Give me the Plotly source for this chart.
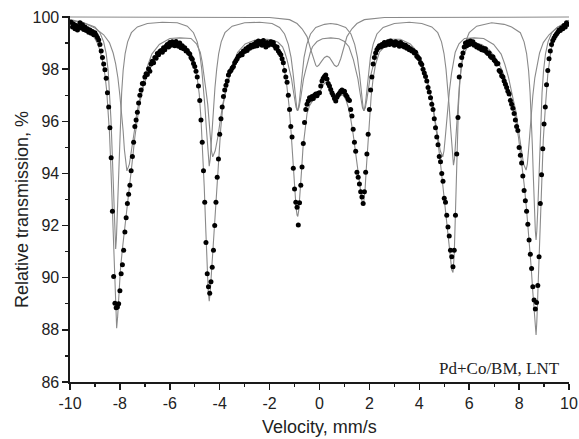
import plotly.graph_objects as go

# ---------------- measured spectrum (velocity in mm/s, transmission in %) ----------------
velocity = [
    -9.95, -9.90, -9.85, -9.80, -9.75, -9.70, -9.65, -9.60, -9.55, -9.50,
    -9.45, -9.40, -9.35, -9.30, -9.25, -9.20, -9.15, -9.10, -9.05, -9.00,
    -8.95, -8.90, -8.85, -8.80, -8.75, -8.70, -8.65, -8.60, -8.55, -8.50,
    -8.45, -8.40, -8.35, -8.30, -8.25, -8.20, -8.15, -8.10, -8.05, -8.00,
    -7.95, -7.90, -7.85, -7.80, -7.75, -7.70, -7.65, -7.60, -7.55, -7.50,
    -7.45, -7.40, -7.35, -7.30, -7.25, -7.20, -7.15, -7.10, -7.05, -7.00,
    -6.95, -6.90, -6.85, -6.80, -6.75, -6.70, -6.65, -6.60, -6.55, -6.50,
    -6.45, -6.40, -6.35, -6.30, -6.25, -6.20, -6.15, -6.10, -6.05, -6.00,
    -5.95, -5.90, -5.85, -5.80, -5.75, -5.70, -5.65, -5.60, -5.55, -5.50,
    -5.45, -5.40, -5.35, -5.30, -5.25, -5.20, -5.15, -5.10, -5.05, -5.00,
    -4.95, -4.90, -4.85, -4.80, -4.75, -4.70, -4.65, -4.60, -4.55, -4.50,
    -4.45, -4.40, -4.35, -4.30, -4.25, -4.20, -4.15, -4.10, -4.05, -4.00,
    -3.95, -3.90, -3.85, -3.80, -3.75, -3.70, -3.65, -3.60, -3.55, -3.50,
    -3.45, -3.40, -3.35, -3.30, -3.25, -3.20, -3.15, -3.10, -3.05, -3.00,
    -2.95, -2.90, -2.85, -2.80, -2.75, -2.70, -2.65, -2.60, -2.55, -2.50,
    -2.45, -2.40, -2.35, -2.30, -2.25, -2.20, -2.15, -2.10, -2.05, -2.00,
    -1.95, -1.90, -1.85, -1.80, -1.75, -1.70, -1.65, -1.60, -1.55, -1.50,
    -1.45, -1.40, -1.35, -1.30, -1.25, -1.20, -1.15, -1.10, -1.05, -1.00,
    -0.95, -0.90, -0.85, -0.80, -0.75, -0.70, -0.65, -0.60, -0.55, -0.50,
    -0.45, -0.40, -0.35, -0.30, -0.25, -0.20, -0.15, -0.10, -0.05, 0.00,
    0.05, 0.10, 0.15, 0.20, 0.25, 0.30, 0.35, 0.40, 0.45, 0.50,
    0.55, 0.60, 0.65, 0.70, 0.75, 0.80, 0.85, 0.90, 0.95, 1.00,
    1.05, 1.10, 1.15, 1.20, 1.25, 1.30, 1.35, 1.40, 1.45, 1.50,
    1.55, 1.60, 1.65, 1.70, 1.75, 1.80, 1.85, 1.90, 1.95, 2.00,
    2.05, 2.10, 2.15, 2.20, 2.25, 2.30, 2.35, 2.40, 2.45, 2.50,
    2.55, 2.60, 2.65, 2.70, 2.75, 2.80, 2.85, 2.90, 2.95, 3.00,
    3.05, 3.10, 3.15, 3.20, 3.25, 3.30, 3.35, 3.40, 3.45, 3.50,
    3.55, 3.60, 3.65, 3.70, 3.75, 3.80, 3.85, 3.90, 3.95, 4.00,
    4.05, 4.10, 4.15, 4.20, 4.25, 4.30, 4.35, 4.40, 4.45, 4.50,
    4.55, 4.60, 4.65, 4.70, 4.75, 4.80, 4.85, 4.90, 4.95, 5.00,
    5.05, 5.10, 5.15, 5.20, 5.25, 5.30, 5.35, 5.40, 5.45, 5.50,
    5.55, 5.60, 5.65, 5.70, 5.75, 5.80, 5.85, 5.90, 5.95, 6.00,
    6.05, 6.10, 6.15, 6.20, 6.25, 6.30, 6.35, 6.40, 6.45, 6.50,
    6.55, 6.60, 6.65, 6.70, 6.75, 6.80, 6.85, 6.90, 6.95, 7.00,
    7.05, 7.10, 7.15, 7.20, 7.25, 7.30, 7.35, 7.40, 7.45, 7.50,
    7.55, 7.60, 7.65, 7.70, 7.75, 7.80, 7.85, 7.90, 7.95, 8.00,
    8.05, 8.10, 8.15, 8.20, 8.25, 8.30, 8.35, 8.40, 8.45, 8.50,
    8.55, 8.60, 8.65, 8.70, 8.75, 8.80, 8.85, 8.90, 8.95, 9.00,
    9.05, 9.10, 9.15, 9.20, 9.25, 9.30, 9.35, 9.40, 9.45, 9.50,
    9.55, 9.60, 9.65, 9.70, 9.75, 9.80, 9.85, 9.90, 9.95,
]
transmission = [
    99.80, 99.62, 99.72, 99.55, 99.68, 99.50, 99.62, 99.78, 99.58, 99.70,
    99.52, 99.62, 99.48, 99.55, 99.42, 99.50, 99.38, 99.45, 99.32, 99.40,
    99.30, 99.22, 99.12, 98.95, 98.70, 98.45, 98.20, 97.98, 97.65, 97.10,
    96.55, 95.75, 94.60, 92.55, 90.05, 89.02, 88.85, 88.88, 89.00, 89.50,
    90.15, 90.50, 91.05, 91.75, 92.30, 92.85, 93.20, 93.55, 94.10, 94.65,
    95.20, 95.80, 96.05, 96.35, 96.70, 97.00, 97.20, 97.45, 97.45, 97.70,
    97.82, 97.80, 98.02, 97.92, 98.20, 98.30, 98.25, 98.45, 98.42, 98.60,
    98.55, 98.68, 98.72, 98.65, 98.82, 98.75, 98.88, 98.95, 98.85, 99.02,
    98.92, 99.05, 98.98, 98.90, 99.06, 98.95, 98.88, 99.00, 98.82, 98.90,
    98.78, 98.82, 98.70, 98.72, 98.62, 98.58, 98.45, 98.38, 98.22, 98.10,
    97.92, 97.70, 97.35, 96.80, 96.05, 95.20, 94.10, 92.90, 91.35, 90.15,
    89.65, 89.40, 89.85, 90.40, 91.05, 92.00, 92.90, 93.85, 94.55, 95.50,
    96.10, 96.55, 96.95, 97.20, 97.38, 97.55, 97.78, 97.90, 97.95, 98.05,
    98.10, 98.25, 98.32, 98.40, 98.50, 98.52, 98.60, 98.55, 98.70, 98.68,
    98.78, 98.72, 98.85, 98.80, 98.92, 98.85, 98.95, 98.88, 99.02, 98.90,
    99.08, 98.98, 99.05, 98.92, 99.10, 98.95, 98.85, 99.02, 98.92, 98.98,
    99.05, 98.95, 99.02, 98.90, 98.80, 98.85, 98.70, 98.62, 98.55, 98.40,
    98.25, 97.95, 97.70, 97.50, 97.00, 96.45, 95.80, 95.40, 94.20, 93.40,
    92.90, 92.70, 92.02, 92.88, 93.55, 94.25, 95.15, 95.95, 96.45, 96.65,
    96.78, 96.90, 96.85, 96.95, 96.88, 97.00, 97.05, 96.98, 97.08, 97.10,
    97.35, 97.55, 97.65, 97.72, 97.78, 97.62, 97.45, 97.35, 97.22, 97.10,
    97.00, 96.88, 96.78, 96.92, 97.02, 97.08, 97.15, 97.20, 97.12, 97.15,
    97.02, 96.95, 96.85, 96.80, 96.45, 96.20, 95.70, 95.20, 94.85, 94.05,
    93.85, 93.60, 93.30, 93.10, 92.85, 93.30, 94.05, 94.75, 95.50, 96.45,
    97.20, 97.70, 98.20, 98.45, 98.62, 98.75, 98.82, 98.90, 98.85, 98.95,
    98.90, 99.02, 98.92, 98.98, 99.05, 98.95, 99.08, 98.98, 99.02, 98.92,
    99.05, 98.95, 99.00, 98.88, 99.02, 98.90, 98.95, 98.85, 98.92, 98.80,
    98.85, 98.75, 98.78, 98.70, 98.72, 98.62, 98.65, 98.50, 98.45, 98.40,
    98.25, 98.18, 98.00, 97.85, 97.72, 97.55, 97.30, 97.12, 96.90, 96.65,
    96.45, 96.10, 95.75, 95.40, 95.10, 94.65, 94.45, 94.00, 93.70, 93.05,
    92.90, 92.40, 91.95, 91.60, 91.05, 90.80, 90.42, 91.05, 92.40, 94.75,
    96.15, 97.70, 98.15, 98.45, 98.62, 98.85, 99.00, 98.90, 99.05, 98.95,
    99.08, 98.98, 99.05, 98.92, 98.95, 98.85, 98.90, 98.80, 98.85, 98.75,
    98.80, 98.72, 98.78, 98.65, 98.60, 98.62, 98.50, 98.45, 98.48, 98.35,
    98.30, 98.20, 98.22, 97.95, 97.90, 97.75, 97.70, 97.55, 97.42, 97.30,
    97.15, 97.05, 96.80, 96.65, 96.50, 96.30, 96.05, 95.80, 95.65, 95.00,
    94.70, 94.40, 93.90, 93.35, 92.95, 92.55, 92.05, 91.45, 90.90, 90.35,
    89.65, 89.15, 88.80, 89.05, 89.70, 90.80, 92.85, 93.95, 94.95, 95.90,
    96.55, 97.40, 97.95, 98.40, 98.70, 98.95, 99.10, 99.20, 99.28, 99.35,
    99.42, 99.50, 99.48, 99.58, 99.55, 99.68, 99.62, 99.78, 99.72,
]

# ---------------- fitted subspectra ----------------
doublet_v = [-10, -2.0, -1.2, -0.9, -0.7, -0.5, -0.35, -0.25, -0.15, -0.1, -0.03, 0.08, 0.2,
             0.3, 0.4, 0.5, 0.6, 0.68, 0.75, 0.85, 0.95, 1.1, 1.3, 1.5, 1.8, 2.6, 10]
doublet_t = [100.0, 99.98, 99.9, 99.75, 99.55, 99.25, 98.75, 98.4, 98.15, 98.1, 98.15, 98.3, 98.45,
             98.5, 98.45, 98.3, 98.15, 98.1, 98.15, 98.4, 98.75, 99.25, 99.55, 99.75, 99.9, 99.98, 100.0]

sextet1_v = [-10, -9.5, -9.0, -8.8, -8.65, -8.55, -8.47, -8.41, -8.36, -8.32, -8.28, -8.24, -8.2,
             -8.17, -8.14, -8.1, -8.06, -8.02, -7.98, -7.93, -7.87, -7.79, -7.69, -7.54, -7.3, -6.9,
             -6.3, -5.7, -5.3, -5.05, -4.9, -4.8, -4.72, -4.65, -4.59, -4.54, -4.5, -4.46, -4.42,
             -4.38, -4.34, -4.3, -4.25, -4.19, -4.12, -4.04, -3.94, -3.79, -3.5, -3.0, -2.4, -1.9,
             -1.6, -1.4, -1.25, -1.14, -1.06, -1.0, -0.95, -0.91, -0.88, -0.85, -0.81, -0.76, -0.7,
             -0.62, -0.51, -0.36, -0.15, 0.2, 0.45, 0.7, 1.05, 1.26, 1.41, 1.52, 1.6, 1.66, 1.71,
             1.75, 1.78, 1.81, 1.85, 1.9, 1.96, 2.04, 2.15, 2.3, 2.55, 3.0, 3.6, 4.1, 4.5, 4.74,
             4.89, 4.99, 5.07, 5.14, 5.2, 5.25, 5.29, 5.33, 5.37, 5.41, 5.45, 5.49, 5.54, 5.6,
             5.67, 5.75, 5.85, 6.0, 6.3, 6.9, 7.4, 7.7, 8.05, 8.2, 8.3, 8.38, 8.44, 8.49, 8.53,
             8.57, 8.61, 8.65, 8.68, 8.71, 8.75, 8.79, 8.83, 8.87, 8.92, 8.98, 9.06, 9.16, 9.31,
             9.55, 10]
sextet1_t = [99.85, 99.8, 99.62, 99.4, 99.05, 98.6, 97.95, 97.1, 96.1, 95.1, 93.9, 92.6, 91.5,
             91.1, 91.5, 92.6, 93.9, 95.1, 96.1, 97.1, 97.95, 98.6, 99.05, 99.4, 99.62, 99.75,
             99.8, 99.78, 99.65, 99.4, 99.05, 98.6, 98.0, 97.3, 96.55, 95.8, 95.15, 94.55, 94.28,
             94.55, 95.15, 95.8, 96.55, 97.3, 98.0, 98.6, 99.05, 99.4, 99.65, 99.78, 99.8, 99.75,
             99.6, 99.35, 98.95, 98.45, 97.85, 97.25, 96.75, 96.5, 96.4, 96.5, 96.75, 97.25, 97.85,
             98.45, 98.95, 99.35, 99.6, 99.72, 99.75, 99.72, 99.6, 99.35, 98.95, 98.45, 97.85, 97.25,
             96.75, 96.5, 96.4, 96.5, 96.75, 97.25, 97.85, 98.45, 98.95, 99.35, 99.6, 99.75, 99.8,
             99.75, 99.62, 99.4, 99.05, 98.6, 98.0, 97.3, 96.55, 95.8, 95.15, 94.55, 94.32, 94.55,
             95.15, 95.8, 96.55, 97.3, 98.0, 98.6, 99.05, 99.4, 99.65, 99.78, 99.72, 99.62, 99.4,
             99.05, 98.6, 97.95, 97.1, 96.1, 95.1, 93.9, 92.65, 91.8, 91.45, 91.8, 92.65, 93.9,
             95.1, 96.1, 97.1, 97.95, 98.6, 99.05, 99.4, 99.62, 99.8]

sextet2_v = [-10, -9.5, -9.0, -8.65, -8.42, -8.27, -8.17, -8.08, -8.0, -7.93, -7.87, -7.82, -7.77,
             -7.72, -7.62, -7.52, -7.42, -7.32, -7.19, -7.02, -6.87, -6.72, -6.42, -6.0, -5.6,
             -5.15, -4.93, -4.78, -4.705, -4.63, -4.545, -4.48, -4.43, -4.38, -4.33, -4.28, -4.18,
             -4.08, -3.98, -3.88, -3.75, -3.58, -3.43, -3.28, -2.98, -2.58, -2.1, -1.88, -1.66,
             -1.48, -1.39, -1.3, -1.2, -1.12, -1.06, -1.0, -0.94, -0.88, -0.82, -0.76, -0.7, -0.64,
             -0.56, -0.46, -0.37, -0.28, -0.1, 0.12, 0.45, 0.78, 1.0, 1.18, 1.27, 1.36, 1.46, 1.54,
             1.6, 1.66, 1.72, 1.78, 1.84, 1.9, 1.96, 2.02, 2.1, 2.2, 2.29, 2.38, 2.56, 2.78, 3.24,
             3.64, 3.94, 4.09, 4.24, 4.41, 4.54, 4.64, 4.74, 4.84, 4.94, 4.99, 5.04, 5.09, 5.14,
             5.205, 5.29, 5.365, 5.44, 5.59, 5.81, 6.2, 6.58, 6.98, 7.28, 7.43, 7.58, 7.75, 7.88,
             7.98, 8.08, 8.18, 8.28, 8.33, 8.38, 8.43, 8.48, 8.55, 8.63, 8.72, 8.82, 8.97, 9.2,
             9.5, 10]
sextet2_t = [99.9, 99.8, 99.58, 99.32, 99.02, 98.62, 98.2, 97.67, 96.98, 96.34, 95.63, 94.92, 94.36,
             94.1, 94.36, 94.92, 95.63, 96.34, 96.9, 97.67, 98.18, 98.58, 98.95, 99.18, 99.2,
             99.18, 98.97, 98.65, 98.29, 97.83, 97.15, 96.65, 96.01, 95.37, 94.87, 94.64, 94.87,
             95.37, 96.01, 96.65, 97.15, 97.83, 98.29, 98.65, 98.97, 99.12, 99.15, 99.12, 99.03,
             98.86, 98.64, 98.36, 97.94, 97.63, 97.24, 96.85, 96.54, 96.4, 96.54, 96.85, 97.24,
             97.63, 97.94, 98.36, 98.64, 98.86, 99.06, 99.17, 99.2, 99.17, 99.06, 98.86, 98.64,
             98.36, 97.94, 97.63, 97.24, 96.85, 96.54, 96.4, 96.54, 96.85, 97.24, 97.63, 97.94,
             98.36, 98.64, 98.86, 99.06, 99.15, 99.15, 98.97, 98.65, 98.29, 97.83, 97.15, 96.65,
             96.01, 95.37, 94.87, 94.64, 94.87, 95.37, 96.01, 96.65, 97.15, 97.83, 98.29, 98.65,
             98.97, 99.18, 99.2, 99.18, 98.95, 98.58, 98.18, 97.67, 96.9, 96.34, 95.63, 94.92,
             94.36, 94.13, 94.36, 94.92, 95.63, 96.34, 96.98, 97.67, 98.2, 98.62, 99.02, 99.32,
             99.58, 99.88]

envelope_v = [-10, -9.6, -9.3, -9.05, -8.9, -8.8, -8.7, -8.6, -8.53, -8.47, -8.42, -8.37, -8.32,
              -8.27, -8.22, -8.17, -8.13, -8.09, -8.04, -7.98, -7.9, -7.8, -7.7, -7.6, -7.5, -7.4,
              -7.3, -7.2, -7.05, -6.9, -6.7, -6.5, -6.2, -5.9, -5.6, -5.4, -5.25, -5.12, -5.0,
              -4.9, -4.82, -4.75, -4.68, -4.62, -4.56, -4.51, -4.46, -4.42, -4.38, -4.33, -4.27,
              -4.2, -4.12, -4.04, -3.96, -3.88, -3.78, -3.65, -3.5, -3.3, -3.0, -2.6, -2.2, -1.9,
              -1.7, -1.55, -1.42, -1.32, -1.22, -1.14, -1.07, -1.0, -0.94, -0.9, -0.87, -0.83,
              -0.78, -0.72, -0.66, -0.58, -0.5, -0.4, -0.28, -0.15, -0.05, 0.05, 0.15, 0.25, 0.35,
              0.45, 0.55, 0.65, 0.75, 0.85, 0.95, 1.05, 1.15, 1.25, 1.35, 1.45, 1.55, 1.63, 1.7,
              1.76, 1.82, 1.88, 1.94, 2.0, 2.07, 2.15, 2.25, 2.4, 2.65, 3.0, 3.4, 3.7, 3.95, 4.15,
              4.35, 4.5, 4.63, 4.75, 4.87, 4.97, 5.07, 5.16, 5.24, 5.3, 5.35, 5.4, 5.44, 5.48,
              5.52, 5.57, 5.63, 5.7, 5.8, 5.95, 6.2, 6.5, 6.8, 7.05, 7.3, 7.5, 7.7, 7.85, 7.98,
              8.1, 8.2, 8.3, 8.4, 8.48, 8.55, 8.61, 8.66, 8.68, 8.71, 8.75, 8.79, 8.84, 8.9, 8.97,
              9.05, 9.15, 9.28, 9.45, 9.65, 9.85, 10]
envelope_t = [99.72, 99.6, 99.45, 99.25, 99.0, 98.72, 98.32, 97.78, 97.18, 96.45, 95.6, 94.45,
              92.95, 91.4, 89.9, 88.75, 88.06, 88.5, 89.4, 90.3, 91.1, 91.9, 92.7, 93.5, 94.5,
              95.4, 96.15, 96.75, 97.35, 97.8, 98.2, 98.5, 98.8, 98.95, 98.95, 98.82, 98.65, 98.35,
              98.05, 97.65, 97.05, 96.1, 94.85, 93.5, 91.9, 90.5, 89.5, 89.1, 89.45, 90.2, 91.1,
              92.2, 93.4, 94.6, 95.7, 96.5, 97.1, 97.6, 98.0, 98.4, 98.72, 98.92, 99.0, 98.95,
              98.8, 98.5, 98.05, 97.45, 96.6, 95.6, 94.5, 93.4, 92.7, 92.4, 92.35, 92.6, 93.2,
              94.1, 95.0, 95.8, 96.3, 96.6, 96.78, 96.88, 97.0, 97.2, 97.4, 97.5, 97.4, 97.2,
              97.0, 96.85, 96.9, 97.0, 97.0, 96.85, 96.55, 96.1, 95.5, 94.75, 93.95, 93.35, 92.95,
              92.8, 93.3, 94.25, 95.2, 96.1, 96.95, 97.65, 98.2, 98.65, 98.9, 99.0, 98.95, 98.8,
              98.5, 98.05, 97.45, 96.8, 96.05, 95.2, 94.2, 93.25, 92.3, 91.4, 90.7, 90.3, 90.2,
              90.9, 92.2, 93.9, 95.3, 96.6, 97.6, 98.2, 98.6, 98.9, 99.0, 98.95, 98.75, 98.45,
              98.0, 97.5, 96.8, 96.15, 95.35, 94.45, 93.6, 92.6, 91.5, 90.45, 89.45, 88.6, 87.95,
              87.8, 88.3, 89.5, 90.5, 92.3, 93.9, 95.3, 96.5, 97.8, 98.75, 99.25, 99.5, 99.65,
              99.72]

# ---------------- axis ticks and labels ----------------
x_ticks = [-10, -8, -6, -4, -2, 0, 2, 4, 6, 8, 10]
x_tick_labels = ["-10", "-8", "-6", "-4", "-2", "0", "2", "4", "6", "8", "10"]
y_ticks = [86, 88, 90, 92, 94, 96, 98, 100]
y_tick_labels = ["86", "88", "90", "92", "94", "96", "98", "100"]
x_title = "Velocity, mm/s"
y_title = "Relative transmission, %"
sample_label = "Pd+Co/BM, LNT"

LINE_GRAY = "#8a8a8a"
SANS = "Liberation Sans, Arial, sans-serif"

fig = go.Figure()
for xs, ys in [(doublet_v, doublet_t), (sextet1_v, sextet1_t),
               (sextet2_v, sextet2_t), (envelope_v, envelope_t)]:
    fig.add_trace(go.Scatter(x=xs, y=ys, mode="lines",
                             line=dict(color=LINE_GRAY, width=1.1),
                             hoverinfo="skip", showlegend=False))

fig.add_trace(go.Scatter(x=velocity, y=transmission, mode="markers",
                         marker=dict(color="black", size=5, line=dict(width=0)),
                         hoverinfo="skip", showlegend=False))

axis_common = dict(
    automargin=False,
    showgrid=False, zeroline=False, showline=True, linecolor="#1a1a1a", linewidth=1.6,
    ticks="outside", ticklen=6, tickwidth=1.5, tickcolor="#1a1a1a",
    tickfont=dict(family=SANS, size=16, color="#222222"),
    minor=dict(ticks="outside", ticklen=3.5, tickwidth=1.3, tickcolor="#1a1a1a", dtick=1,
               showgrid=False),
)

fig.update_layout(
    width=579, height=439,
    margin=dict(l=70, r=10, t=16, b=57, autoexpand=False),
    paper_bgcolor="white", plot_bgcolor="white",
    hovermode=False,
    xaxis=dict(range=[-10, 10], tickmode="array", tickvals=x_ticks, ticktext=x_tick_labels,
               **axis_common),
    yaxis=dict(range=[86, 100.04], tickmode="array", tickvals=y_ticks, ticktext=y_tick_labels,
               **axis_common),
    annotations=[
        dict(text=sample_label, xref="paper", yref="paper", x=0.986, y=0.038,
             xanchor="right", yanchor="middle", showarrow=False,
             font=dict(family="Liberation Serif, Times New Roman, serif", size=17,
                       color="#222222")),
        dict(text=x_title, xref="paper", yref="paper", x=0.5, y=-0.123,
             xanchor="center", yanchor="middle", showarrow=False,
             font=dict(family=SANS, size=18, color="#222222")),
        dict(text=y_title, xref="paper", yref="paper", x=-0.096, y=0.47,
             xanchor="center", yanchor="middle", showarrow=False, textangle=-90,
             font=dict(family=SANS, size=18, color="#222222")),
    ],
)

# remove the browser's default 8px page margin so the figure sits at the window's corner
fig.write_html("out.html",
               config={"displayModeBar": False, "staticPlot": True},
               post_script="document.body.style.margin='0';document.body.style.overflow='hidden';")
